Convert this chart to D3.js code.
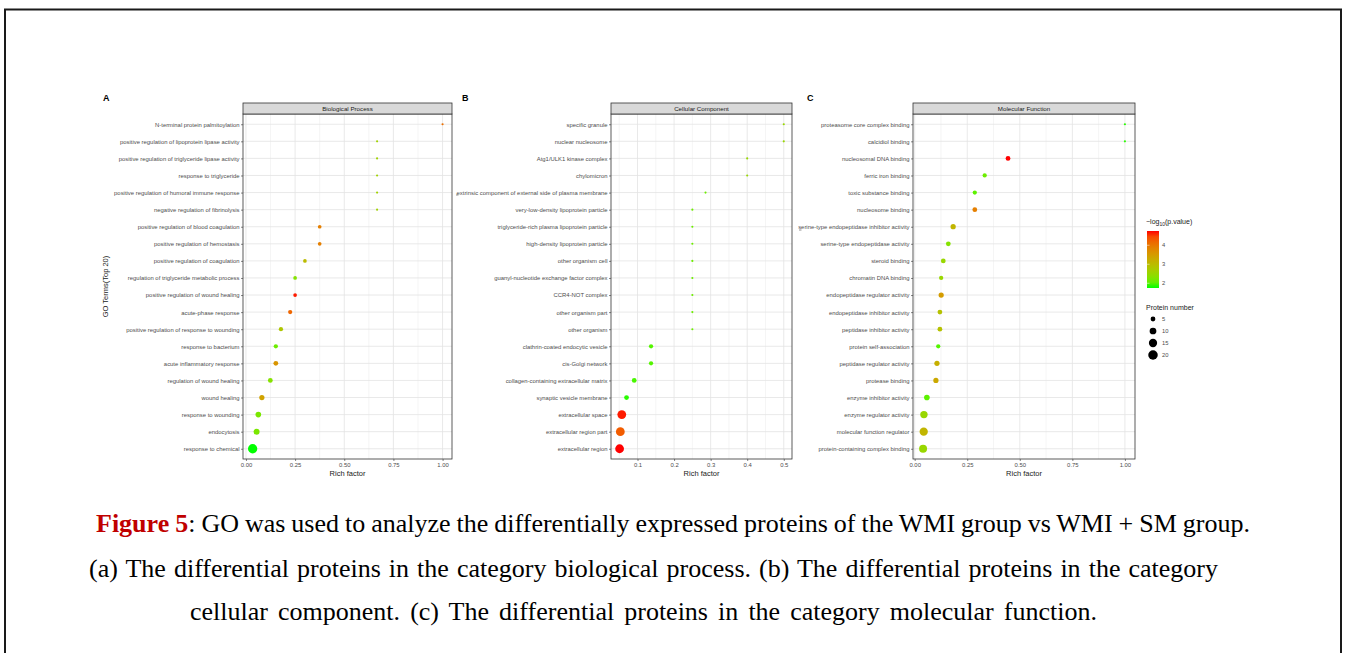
<!DOCTYPE html>
<html>
<head>
<meta charset="utf-8">
<script src="https://cdn.jsdelivr.net/npm/d3@7"></script>
<style>
  body { margin: 0; background: #fff; }
  svg { display: block; }
</style>
</head>
<body>
<div id="chart"></div>
<script>
// ---- data (top row first) ----
const bpTerms = [
  'N-terminal protein palmitoylation',
  'positive regulation of lipoprotein lipase activity',
  'positive regulation of triglyceride lipase activity',
  'response to triglyceride',
  'positive regulation of humoral immune response',
  'negative regulation of fibrinolysis',
  'positive regulation of blood coagulation',
  'positive regulation of hemostasis',
  'positive regulation of coagulation',
  'regulation of triglyceride metabolic process',
  'positive regulation of wound healing',
  'acute-phase response',
  'positive regulation of response to wounding',
  'response to bacterium',
  'acute inflammatory response',
  'regulation of wound healing',
  'wound healing',
  'response to wounding',
  'endocytosis',
  'response to chemical'
];
const bpRich = [1.0, 0.667, 0.667, 0.667, 0.667, 0.667, 0.375, 0.375, 0.3, 0.25,
  0.25, 0.225, 0.178, 0.152, 0.152, 0.124, 0.081, 0.063, 0.054, 0.034];
const bpCount = [1, 1, 1, 1, 1, 1, 3, 3, 3, 3, 3, 4, 4, 4, 5, 5, 6, 7, 8, 19];
const bpLogP = [4.1, 2.6, 2.6, 2.6, 2.6, 2.6, 3.9, 3.9, 3.0, 2.3,
  4.7, 4.2, 2.8, 2.1, 3.6, 2.3, 3.4, 2.2, 2.2, 1.75];

const ccTerms = [
  'specific granule',
  'nuclear nucleosome',
  'Atg1/ULK1 kinase complex',
  'chylomicron',
  'extrinsic component of external side of plasma membrane',
  'very-low-density lipoprotein particle',
  'triglyceride-rich plasma lipoprotein particle',
  'high-density lipoprotein particle',
  'other organism cell',
  'guanyl-nucleotide exchange factor complex',
  'CCR4-NOT complex',
  'other organism part',
  'other organism',
  'clathrin-coated endocytic vesicle',
  'cis-Golgi network',
  'collagen-containing extracellular matrix',
  'synaptic vesicle membrane',
  'extracellular space',
  'extracellular region part',
  'extracellular region'
];
const ccRich = [0.5, 0.5, 0.4, 0.4, 0.286, 0.25, 0.25, 0.25, 0.25, 0.25,
  0.25, 0.25, 0.25, 0.137, 0.137, 0.091, 0.070, 0.057, 0.053, 0.051];
const ccCount = [1, 1, 1, 1, 1, 1, 1, 1, 1, 1, 1, 1, 1, 4, 4, 5, 5, 17, 17, 17];
const ccLogP = [2.5, 2.5, 2.5, 2.5, 2.1, 2.1, 2.1, 2.1, 2.1, 2.1,
  2.1, 2.1, 2.1, 1.95, 1.95, 1.9, 1.8, 4.7, 4.3, 4.75];

const mfTerms = [
  'proteasome core complex binding',
  'calcidiol binding',
  'nucleosomal DNA binding',
  'ferric iron binding',
  'toxic substance binding',
  'nucleosome binding',
  'serine-type endopeptidase inhibitor activity',
  'serine-type endopeptidase activity',
  'steroid binding',
  'chromatin DNA binding',
  'endopeptidase regulator activity',
  'endopeptidase inhibitor activity',
  'peptidase inhibitor activity',
  'protein self-association',
  'peptidase regulator activity',
  'protease binding',
  'enzyme inhibitor activity',
  'enzyme regulator activity',
  'molecular function regulator',
  'protein-containing complex binding'
];
const mfRich = [1.0, 1.0, 0.444, 0.333, 0.286, 0.286, 0.183, 0.16, 0.136, 0.126,
  0.126, 0.12, 0.12, 0.112, 0.106, 0.101, 0.058, 0.044, 0.043, 0.04];
const mfCount = [1, 1, 5, 4, 4, 5, 6, 5, 5, 4, 6, 5, 5, 4, 6, 6, 7, 12, 15, 14];
const mfLogP = [1.8, 1.8, 4.75, 2.1, 2.0, 3.9, 3.1, 2.3, 2.5, 2.5,
  3.5, 2.9, 2.9, 1.95, 3.2, 3.3, 2.0, 2.5, 3.1, 2.5];

const ticksAC = [0, 0.25, 0.5, 0.75, 1.0];
const ticksB = [0.1, 0.2, 0.3, 0.4, 0.5];
const colorTicks = [2, 3, 4];
const sizeTicks = [5, 10, 15, 20];

const captionLines = [
  'GO was used to analyze the differentially expressed proteins of the WMI group vs WMI + SM group.',
  '(a) The differential proteins in the category biological process. (b) The differential proteins in the category',
  'cellular component. (c) The differential proteins in the category molecular function.'
];

// ---- setup ----
const W = 1346, H = 653;
const font = '"Liberation Sans", Arial, sans-serif';
const svg = d3.select('#chart').append('svg')
  .attr('width', W).attr('height', H);

svg.append('rect')
  .attr('x', 5).attr('y', 9.5)
  .attr('width', 1336).attr('height', 660)
  .attr('fill', 'none').attr('stroke', '#1a1a1a').attr('stroke-width', 2);

const color = d3.scaleLinear()
  .domain([1.75, 4.75])
  .range(['#00ff00', '#ff0000'])
  .interpolate(d3.interpolateLab)
  .clamp(true);
const radius = d3.scaleSqrt().domain([0, 22]).range([0, 5]);

const plotTop = 114, plotBottom = 459, stripTop = 103;

const panels = [
  { letter: 'A', lx: 103, title: 'Biological Process', terms: bpTerms, rich: bpRich,
    count: bpCount, logp: bpLogP, x0: 243, x1: 452, domain: [-0.015, 1.048],
    ticks: ticksAC, minor: [0.125, 0.375, 0.625, 0.875], fmt: d3.format('.2f'), ytitle: true },
  { letter: 'B', lx: 462, title: 'Cellular Component', terms: ccTerms, rich: ccRich,
    count: ccCount, logp: ccLogP, x0: 611, x1: 792, domain: [0.0275, 0.5225],
    ticks: ticksB, minor: [0.05, 0.15, 0.25, 0.35, 0.45], fmt: d3.format('.1f'), ytitle: false },
  { letter: 'C', lx: 807, title: 'Molecular Function', terms: mfTerms, rich: mfRich,
    count: mfCount, logp: mfLogP, x0: 913, x1: 1135, domain: [-0.008, 1.048],
    ticks: ticksAC, minor: [0.125, 0.375, 0.625, 0.875], fmt: d3.format('.2f'), ytitle: false }
];

panels.forEach(p => {
  const g = svg.append('g');
  const x = d3.scaleLinear().domain(p.domain).range([p.x0, p.x1]);
  const y = d3.scalePoint().domain(p.terms).range([plotTop, plotBottom]).padding(0.6);

  // panel letter
  g.append('text')
    .attr('x', p.lx).attr('y', 101)
    .style('font-family', font).style('font-size', '9px').style('font-weight', 'bold')
    .attr('fill', '#000')
    .text(p.letter);

  // panel background + grid
  g.append('rect')
    .attr('x', p.x0).attr('y', plotTop)
    .attr('width', p.x1 - p.x0).attr('height', plotBottom - plotTop)
    .attr('fill', '#fff');

  g.selectAll('.minor').data(p.minor).join('line')
    .attr('x1', d => x(d)).attr('x2', d => x(d))
    .attr('y1', plotTop).attr('y2', plotBottom)
    .attr('stroke', '#ebebeb').attr('stroke-width', 0.5);

  g.selectAll('.vgrid').data(p.ticks).join('line')
    .attr('x1', d => x(d)).attr('x2', d => x(d))
    .attr('y1', plotTop).attr('y2', plotBottom)
    .attr('stroke', '#e3e3e3').attr('stroke-width', 0.8);

  g.selectAll('.hgrid').data(p.terms).join('line')
    .attr('x1', p.x0).attr('x2', p.x1)
    .attr('y1', d => y(d)).attr('y2', d => y(d))
    .attr('stroke', '#e3e3e3').attr('stroke-width', 0.8);

  // points
  const pts = p.terms.map((t, i) => ({ t, r: p.rich[i], n: p.count[i], c: p.logp[i] }));
  g.selectAll('circle').data(pts).join('circle')
    .attr('cx', d => x(d.r))
    .attr('cy', d => y(d.t))
    .attr('r', d => radius(d.n))
    .attr('fill', d => color(d.c));

  // border
  g.append('rect')
    .attr('x', p.x0).attr('y', plotTop)
    .attr('width', p.x1 - p.x0).attr('height', plotBottom - plotTop)
    .attr('fill', 'none').attr('stroke', '#333').attr('stroke-width', 0.8);

  // strip
  g.append('rect')
    .attr('x', p.x0).attr('y', stripTop)
    .attr('width', p.x1 - p.x0).attr('height', plotTop - stripTop)
    .attr('fill', '#d9d9d9').attr('stroke', '#333').attr('stroke-width', 0.8);
  g.append('text')
    .attr('x', (p.x0 + p.x1) / 2).attr('y', (stripTop + plotTop) / 2 + 2.2)
    .attr('text-anchor', 'middle')
    .style('font-family', font).style('font-size', '6.2px')
    .attr('fill', '#1a1a1a')
    .text(p.title);

  // axes
  const yAxis = g.append('g')
    .attr('transform', `translate(${p.x0},0)`)
    .call(d3.axisLeft(y).tickSize(2).tickPadding(1.5));
  const xAxis = g.append('g')
    .attr('transform', `translate(0,${plotBottom})`)
    .call(d3.axisBottom(x).tickValues(p.ticks).tickFormat(p.fmt).tickSize(2).tickPadding(1.5));
  [yAxis, xAxis].forEach(a => {
    a.select('.domain').remove();
    a.selectAll('line').attr('stroke', '#333').attr('stroke-width', 0.6);
    a.selectAll('text')
      .style('font-family', font).style('font-size', '5.9px')
      .attr('fill', '#4d4d4d');
  });

  g.append('text')
    .attr('x', (p.x0 + p.x1) / 2).attr('y', 476)
    .attr('text-anchor', 'middle')
    .style('font-family', font).style('font-size', '7.5px')
    .attr('fill', '#1a1a1a')
    .text('Rich factor');

  if (p.ytitle) {
    g.append('text')
      .attr('transform', `translate(108,${(plotTop + plotBottom) / 2}) rotate(-90)`)
      .attr('text-anchor', 'middle')
      .style('font-family', font).style('font-size', '7.5px')
      .attr('fill', '#1a1a1a')
      .text('GO Terms(Top 20)');
  }
});

// cropped-off legend remnants peeking out at the right of panels A and B
[[456, 195], [799, 230]].forEach(([mx, my]) => {
  svg.append('line')
    .attr('x1', mx).attr('x2', mx + 2.5)
    .attr('y1', my).attr('y2', my)
    .attr('stroke', '#777').attr('stroke-width', 0.8);
});

// ---- legends ----
const lg = svg.append('g');
const barX = 1147, barW = 12, barTop = 231, barBottom = 288;
const grad = svg.append('defs').append('linearGradient')
  .attr('id', 'cgrad').attr('x1', 0).attr('x2', 0).attr('y1', 1).attr('y2', 0);
d3.range(0, 1.0001, 0.1).forEach(t => {
  const v = color.domain()[0] + t * (color.domain()[1] - color.domain()[0]);
  grad.append('stop').attr('offset', t).attr('stop-color', color(v));
});

const titleT = lg.append('text')
  .attr('x', 1146).attr('y', 224)
  .style('font-family', font).style('font-size', '7px')
  .attr('fill', '#1a1a1a');
titleT.append('tspan').text('−log');
titleT.append('tspan').attr('dy', 1.8).style('font-size', '5px').text('10');
titleT.append('tspan').attr('dy', -1.8).text('(p.value)');

lg.append('rect')
  .attr('x', barX).attr('y', barTop).attr('width', barW).attr('height', barBottom - barTop)
  .attr('fill', 'url(#cgrad)');

const cy = d3.scaleLinear().domain(color.domain()).range([barBottom, barTop]);
lg.selectAll('.ctick').data(colorTicks).join('text')
  .attr('x', barX + barW + 3).attr('y', d => cy(d) + 2)
  .style('font-family', font).style('font-size', '5.8px')
  .attr('fill', '#4d4d4d')
  .text(d => d);
lg.selectAll('.cmark').data(colorTicks).join('line')
  .attr('x1', barX).attr('x2', barX + 2.5)
  .attr('y1', d => cy(d)).attr('y2', d => cy(d))
  .attr('stroke', '#fff').attr('stroke-width', 0.5);

lg.append('text')
  .attr('x', 1146).attr('y', 310)
  .style('font-family', font).style('font-size', '7px')
  .attr('fill', '#1a1a1a')
  .text('Protein number');

const sy = d3.scalePoint().domain(sizeTicks).range([319, 355]);
lg.selectAll('.scircle').data(sizeTicks).join('circle')
  .attr('cx', 1153).attr('cy', d => sy(d))
  .attr('r', d => radius(d))
  .attr('fill', '#000');
lg.selectAll('.slabel').data(sizeTicks).join('text')
  .attr('x', 1162).attr('y', d => sy(d) + 2)
  .style('font-family', font).style('font-size', '5.8px')
  .attr('fill', '#4d4d4d')
  .text(d => d);

// ---- caption ----
// each line is nudged by word spacing to the width it has in the figure
const serif = '"Liberation Serif", "Times New Roman", serif';
const cap = svg.append('g').style('font-family', serif).style('font-size', '26px');
const capLines = [
  { x: 96, y: 532, right: 1250 },
  { x: 89, y: 577, right: 1218 },
  { x: 190, y: 620, right: 1097 }
];
const l1 = cap.append('text').attr('x', capLines[0].x).attr('y', capLines[0].y).attr('fill', '#000');
l1.append('tspan').attr('fill', '#c00000').style('font-weight', 'bold').text('Figure 5');
l1.append('tspan').text(': ' + captionLines[0]);
const l2 = cap.append('text').attr('x', capLines[1].x).attr('y', capLines[1].y).attr('fill', '#000').text(captionLines[1]);
const l3 = cap.append('text').attr('x', capLines[2].x).attr('y', capLines[2].y).attr('fill', '#000').text(captionLines[2]);
[l1, l2, l3].forEach((t, i) => {
  const natural = t.node().getComputedTextLength();
  const spaces = t.text().split(' ').length - 1;
  const extra = (capLines[i].right - capLines[i].x - natural) / spaces;
  t.style('word-spacing', extra + 'px');
});
</script>
</body>
</html>
